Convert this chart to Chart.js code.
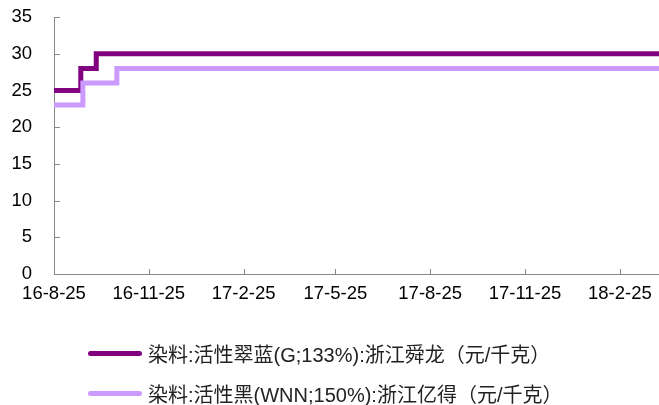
<!DOCTYPE html>
<html>
<head>
<meta charset="utf-8">
<script src="https://cdn.jsdelivr.net/npm/chart.js@4/dist/chart.umd.min.js"></script>
<style>
  html, body { margin: 0; padding: 0; background: #fff; }
  #wrap { position: relative; width: 659px; height: 405px; overflow: hidden; }
  canvas { position: absolute; left: 0; top: 0; }
  .lg { position: absolute; left: 88px; height: 24px; display: flex; align-items: center;
        font-family: "Liberation Sans", Arial, "Noto Sans CJK SC", sans-serif; font-size: 20px; color: #222; white-space: nowrap; }
  .lg .sw { width: 54px; height: 5px; border-radius: 2.5px; margin-right: 6px; }
</style>
</head>
<body>
<div id="wrap">
  <canvas id="c" width="659" height="405"></canvas>
  <div id="legend"></div>
</div>
<script>
// ---- data ----
const seriesNames = ['染料:活性翠蓝(G;133%):浙江舜龙（元/千克）', '染料:活性黑(WNN;150%):浙江亿得（元/千克）'];
const seriesColors = ['#800080', '#CC99FF'];
const startDate = '2016-08-25';
const endDate = '2018-04-04';
// change points: value holds from each date until the next
const datesA = ['2016-08-25', '2016-09-20', '2016-10-05', '2018-04-04'];
const valuesA = [25, 28, 30, 30];
const datesB = ['2016-08-25', '2016-09-22', '2016-10-25', '2018-04-04'];
const valuesB = [23, 26, 28, 28];
const tickDates = ['2016-08-25', '2016-11-25', '2017-02-25', '2017-05-25', '2017-08-25', '2017-11-25', '2018-02-25'];
const tickLabels = ['16-8-25', '16-11-25', '17-2-25', '17-5-25', '17-8-25', '17-11-25', '18-2-25'];
const yTicks = [0, 5, 10, 15, 20, 25, 30, 35];

// ---- helpers ----
const dayOf = d => (Date.parse(d) - Date.parse(startDate)) / 86400000;
const toPts = (ds, vs) => ds.map((d, i) => ({ x: dayOf(d), y: vs[i] }));
const FONT = '"Liberation Sans", Arial, "Noto Sans CJK SC", sans-serif';

// HTML legend
const legend = document.getElementById('legend');
seriesNames.forEach((name, i) => {
  const row = document.createElement('div');
  row.className = 'lg';
  row.style.top = (341 + i * 40) + 'px';
  const sw = document.createElement('div');
  sw.className = 'sw';
  sw.style.background = seriesColors[i];
  const tx = document.createElement('span');
  tx.textContent = name;
  row.appendChild(sw); row.appendChild(tx);
  legend.appendChild(row);
});

const innerTicks = {
  id: 'innerTicks',
  beforeDatasetsDraw(chart) {
    const ctx = chart.ctx;
    const xs = chart.scales.x, ys = chart.scales.y;
    ctx.save();
    ctx.strokeStyle = '#888';
    ctx.lineWidth = 1;
    ctx.beginPath();
    xs.ticks.forEach(t => {
      const px = Math.round(xs.getPixelForValue(t.value)) + 0.5;
      ctx.moveTo(px, ys.bottom); ctx.lineTo(px, ys.bottom - 5);
    });
    ys.ticks.forEach(t => {
      const py = Math.round(ys.getPixelForValue(t.value)) + 0.5;
      ctx.moveTo(xs.left, py); ctx.lineTo(xs.left + 6, py);
    });
    ctx.stroke();
    ctx.restore();
  }
};

new Chart(document.getElementById('c'), {
  type: 'line',
  data: {
    datasets: [
      { label: seriesNames[1], data: toPts(datesB, valuesB), borderColor: seriesColors[1], borderWidth: 5, pointRadius: 0, stepped: 'before', fill: false },
      { label: seriesNames[0], data: toPts(datesA, valuesA), borderColor: seriesColors[0], borderWidth: 5, pointRadius: 0, stepped: 'before', fill: false }
    ]
  },
  options: {
    responsive: false,
    animation: false,
    layout: { autoPadding: false, padding: { top: 17, left: 0, right: 0, bottom: 100 } },
    plugins: { legend: { display: false }, tooltip: { enabled: false } },
    scales: {
      x: {
        type: 'linear',
        min: 0,
        max: dayOf(endDate),
        afterBuildTicks: s => { s.ticks = tickDates.map(d => ({ value: dayOf(d) })); },
        afterFit: s => { s.height = 405 - 100 - 274; s.paddingLeft = 0; s.paddingRight = 0; },
        ticks: { autoSkip: false, maxRotation: 0, padding: 9, color: '#000', font: { family: FONT, size: 18.5 },
                 callback: (v, i) => tickLabels[i] },
        grid: { display: true, drawOnChartArea: false, drawTicks: false },
        border: { color: '#888', width: 1 }
      },
      y: {
        min: 0, max: 35,
        afterBuildTicks: s => { s.ticks = yTicks.map(v => ({ value: v })); },
        afterFit: s => { s.width = 54; s.paddingTop = 0; s.paddingBottom = 0; },
        ticks: { padding: 22, color: '#000', font: { family: FONT, size: 18.5 } },
        grid: { display: true, drawOnChartArea: false, drawTicks: false },
        border: { color: '#888', width: 1 }
      }
    }
  },
  plugins: [innerTicks]
});
</script>
</body>
</html>
